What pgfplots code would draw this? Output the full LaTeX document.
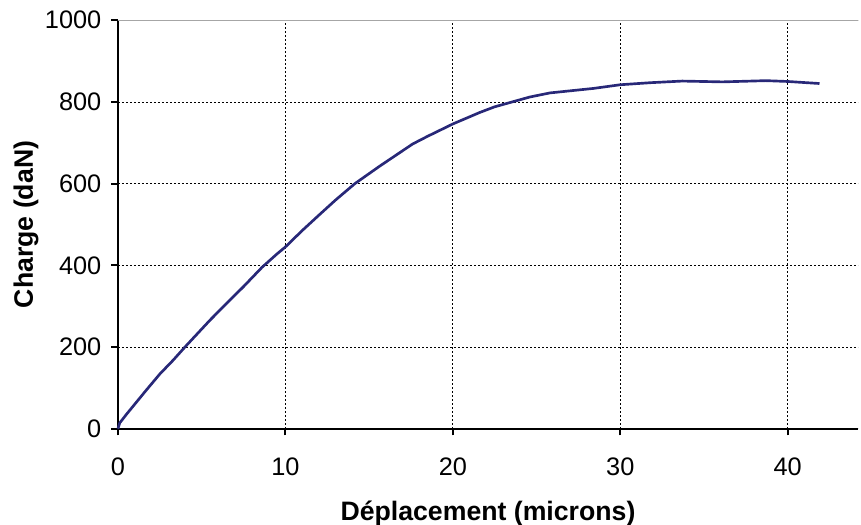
\documentclass[border=0pt]{standalone}
\usepackage{fontspec}
\setmainfont{Liberation Sans}
\usepackage{pgfplots}
\pgfplotsset{compat=1.18}
\definecolor{courbe}{RGB}{40,40,120}
\begin{document}
\begin{tikzpicture}
\begin{axis}[
width=555pt, height=306.4pt,
scale only axis,
xmin=0, xmax=44.2,
ymin=0, ymax=1000,
axis lines*=left,
axis line style={black, line width=1.6pt},
xtick={0,10,20,30,40},
ytick={0,200,400,600,800,1000},
tick align=outside,
major tick length=5pt,
tick style={black, line width=1.4pt},
xmajorgrids, ymajorgrids,
grid style={black, dash pattern=on 1.5pt off 1.5pt, line width=0.6pt},
/pgf/number format/assume math mode=true,
/pgf/number format/set thousands separator={},
ticklabel style={font=\fontsize{19}{22}\selectfont},
xticklabel style={yshift=-13pt},
yticklabel style={xshift=-4pt},
xlabel={\textbf{Déplacement (microns)}},
ylabel={\textbf{Charge (daN)}},
label style={font=\fontsize{20}{24}\selectfont},
xlabel style={yshift=-12pt},
ylabel style={yshift=-2pt},
clip=false,
]
\addplot[courbe, line width=2pt] coordinates {
(0,0) (0.1,14) (0.5,35) (1.0,60) (1.7,95) (2.5,134) (3.3,168) (4.0,200)
(5.5,266) (6.3,299) (7.5,348) (8.6,395) (9.5,428) (10,445) (11,485)
(12.06,525) (13,560) (14.15,600) (15.64,643) (17.6,697) (18.5,716)
(20,746) (21.6,774) (22.5,788) (24.6,812) (25.8,822) (28.4,833)
(30,842) (31.8,847) (33.7,851) (36.1,849) (38.7,852) (40,850) (41.9,845)
};
\draw[gray!70, line width=0.8pt] (axis cs:0,1000) -- (axis cs:44.2,1000);
\coordinate (sw) at (rel axis cs:0,0);
\coordinate (ne) at (rel axis cs:1,1);
\end{axis}
\pgfresetboundingbox
\path ([shift={(-88.5pt,-71.5pt)}]sw) rectangle ([shift={(2.25pt,15.15pt)}]ne);
\end{tikzpicture}
\end{document}
